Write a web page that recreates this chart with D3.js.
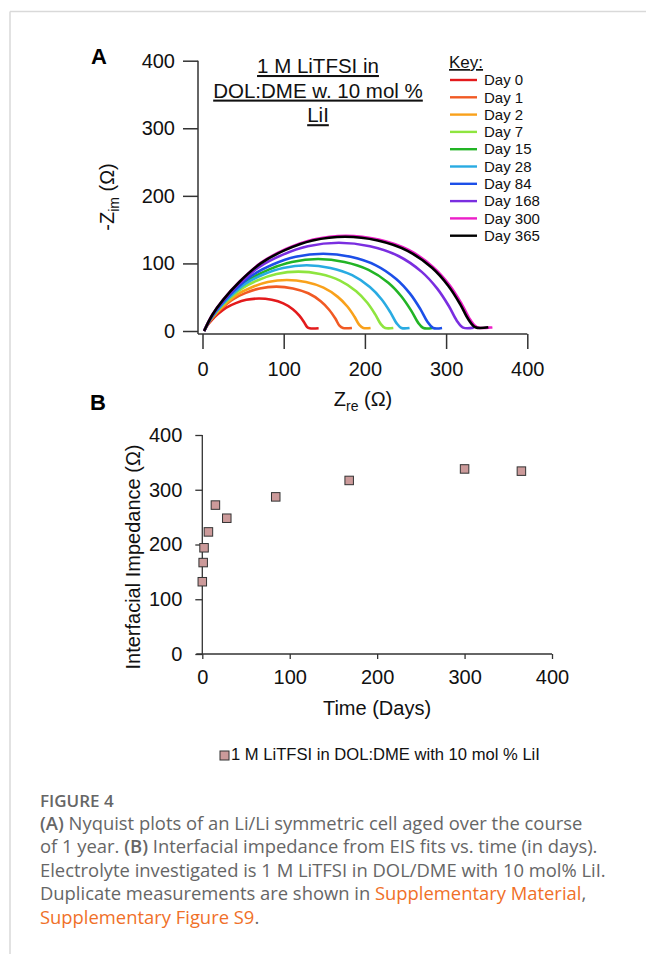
<!DOCTYPE html>
<html>
<head>
<meta charset="utf-8">
<script src="https://cdn.jsdelivr.net/npm/d3@7"></script>
<style>
  body { margin: 0; background: #fff; }
  svg { display: block; }
</style>
</head>
<body>
<svg id="fig"></svg>
<script>
// Panel A: Nyquist curves, one per ageing day
const days = [0, 1, 2, 7, 15, 28, 84, 168, 300, 365];
const zre = [
  [2, 5.9, 11.1, 18.9, 29.3, 41, 54, 69.6, 85.2, 99.5, 111.2, 119, 124.9, 128.8, 132, 143],
  [2, 7.1, 14, 24.2, 37.9, 53.3, 70.4, 90.9, 111.4, 130.3, 145.6, 155.9, 163.6, 168.7, 173, 184],
  [2, 7.9, 15.7, 27.5, 43.2, 60.8, 80.4, 103.9, 127.4, 149, 166.6, 178.4, 187.2, 193.1, 198, 207],
  [2, 8.7, 17.6, 31, 48.8, 68.9, 91.2, 118, 144.7, 169.3, 189.3, 202.7, 212.7, 219.4, 225, 235],
  [2, 10.1, 20.9, 37.1, 58.7, 83, 110, 142.4, 174.8, 204.5, 228.8, 245, 257.2, 265.3, 272, 283],
  [2, 9.3, 19, 33.6, 53, 74.9, 99.2, 128.4, 157.5, 184.3, 206.1, 220.7, 231.6, 238.9, 245, 255],
  [2, 10.5, 21.7, 38.7, 61.2, 86.6, 114.8, 148.6, 182.5, 213.5, 238.9, 255.8, 268.5, 277, 284, 295],
  [2, 11.6, 24.3, 43.5, 69, 97.7, 129.6, 167.9, 206.2, 241.3, 270, 289.1, 303.5, 313, 321, 334],
  [2, 12.1, 25.5, 45.7, 72.6, 102.8, 136.4, 176.7, 217, 254, 284.2, 304.4, 319.5, 329.6, 338, 357],
  [2, 12, 25.4, 45.4, 72.1, 102.2, 135.6, 175.7, 215.8, 252.5, 282.6, 302.6, 317.6, 327.7, 336, 352]
];
const zim = [
  [0, 8.2, 15.8, 25, 34.6, 41.3, 46.1, 48, 46.1, 40.8, 32.2, 23, 13.4, 6, 4, 4],
  [0, 11.2, 21.6, 34.1, 47.2, 56.4, 63, 65.6, 63, 55.8, 44, 31.5, 18.4, 7.9, 4.5, 4.5],
  [0, 12.8, 24.9, 39.2, 54.3, 64.8, 72.4, 75.4, 72.4, 64.1, 50.5, 36.2, 21.1, 9, 4.5, 4.5],
  [0, 14.9, 29, 45.7, 63.2, 75.5, 84.3, 87.8, 84.3, 74.6, 58.8, 42.1, 24.6, 10.5, 4.5, 4.5],
  [0, 18.1, 35.1, 55.4, 76.7, 91.6, 102.2, 106.5, 102.2, 90.5, 71.4, 51.1, 29.8, 12.8, 4.5, 4.5],
  [0, 16.5, 32.1, 50.5, 70, 83.6, 93.3, 97.2, 93.3, 82.6, 65.1, 46.7, 27.2, 11.7, 4.5, 4.5],
  [0, 19.4, 37.8, 59.5, 82.4, 98.4, 109.8, 114.4, 109.8, 97.2, 76.6, 54.9, 32, 13.7, 4.5, 4.5],
  [0, 22.2, 43.1, 67.9, 94, 112.3, 125.4, 130.6, 125.4, 111, 87.5, 62.7, 36.6, 15.7, 5, 5],
  [0, 24, 46.5, 73.3, 101.5, 121.3, 135.4, 141, 135.4, 119.9, 94.5, 67.7, 39.5, 16.9, 5.5, 5.5],
  [0, 23.7, 46, 72.5, 100.4, 120, 133.9, 139.5, 133.9, 118.6, 93.5, 67, 39.1, 16.7, 5.5, 5.5]
];
const dayColors = ["#e31a1c", "#f15a24", "#f9a11b", "#8ee53f", "#22b425",
                   "#29abe2", "#1c4fe8", "#7a2ee0", "#ec1fc8", "#000000"];

// Panel B: fitted interfacial impedance vs time
const impedance = [132, 167, 194, 223, 272, 248, 287, 317, 338, 334];
const ticks = [0, 100, 200, 300, 400];

const width = 646, height = 954;
const font = "'Liberation Sans', Arial, sans-serif";

const svg = d3.select("#fig")
  .attr("width", width)
  .attr("height", height)
  .style("font-family", font);

// page frame
svg.append("line").attr("x1", 10).attr("x2", 646).attr("y1", 11.5).attr("y2", 11.5)
  .attr("stroke", "#d9d9d9").attr("stroke-width", 1.5);
svg.append("line").attr("x1", 10).attr("x2", 10).attr("y1", 11.5).attr("y2", 954)
  .attr("stroke", "#d9d9d9").attr("stroke-width", 1.5);

// ---------- Panel A ----------
const xA = d3.scaleLinear().domain([0, 400]).range([202.5, 527.3]);
const yA = d3.scaleLinear().domain([0, 400]).range([331, 60.7]);

const gA = svg.append("g");

// y axis (offset a little left of x=0)
const yAxisA = gA.append("g")
  .attr("transform", "translate(198,0)")
  .call(d3.axisLeft(yA).tickValues(ticks).tickSize(15).tickPadding(8));
// x axis (offset a little below y=0)
const xAxisA = gA.append("g")
  .attr("transform", "translate(0,334)")
  .call(d3.axisBottom(xA).tickValues(ticks).tickSize(15).tickPadding(13));

[yAxisA, xAxisA].forEach(a => {
  a.select(".domain").remove();
  a.selectAll("line").attr("stroke", "#333").attr("stroke-width", 1.5);
  a.selectAll("text").attr("font-size", 20).attr("fill", "#111").attr("font-family", font);
});
gA.append("line").attr("x1", 198).attr("x2", 198).attr("y1", yA(400)).attr("y2", 334)
  .attr("stroke", "#333").attr("stroke-width", 1.5);
gA.append("line").attr("x1", 198).attr("x2", xA(400)).attr("y1", 334).attr("y2", 334)
  .attr("stroke", "#333").attr("stroke-width", 1.5);

const line = d3.line()
  .x(d => xA(d[0]))
  .y(d => yA(d[1]))
  .curve(d3.curveCatmullRom.alpha(0.5));

gA.selectAll("path.curve")
  .data(days)
  .enter().append("path")
  .attr("class", "curve")
  .attr("d", (d, i) => line(zre[i].map((x, j) => [x, zim[i][j]])))
  .attr("fill", "none")
  .attr("stroke", (d, i) => dayColors[i])
  .attr("stroke-width", 2.6);

// axis titles
const yTitleA = gA.append("text")
  .attr("transform", "translate(114,197) rotate(-90)")
  .attr("text-anchor", "middle")
  .attr("font-size", 20)
  .attr("fill", "#111");
yTitleA.append("tspan").text("-Z");
yTitleA.append("tspan").text("im").attr("font-size", 14).attr("dy", 5);
yTitleA.append("tspan").text(" (Ω)").attr("dy", -5);

const xTitleA = gA.append("text")
  .attr("x", 363).attr("y", 406)
  .attr("text-anchor", "middle")
  .attr("font-size", 20)
  .attr("fill", "#111");
xTitleA.append("tspan").text("Z");
xTitleA.append("tspan").text("re").attr("font-size", 14).attr("dy", 5);
xTitleA.append("tspan").text(" (Ω)").attr("dy", -5);

// title, underlined
["1 M LiTFSI in", "DOL:DME w. 10 mol %", "LiI"].forEach((t, i) => {
  gA.append("text")
    .attr("x", 318).attr("y", 73 + i * 24.6)
    .attr("text-anchor", "middle")
    .attr("font-size", 20.5)
    .attr("fill", "#111")
    .attr("text-decoration", "underline")
    .text(t);
});

// key
gA.append("text")
  .attr("x", 449).attr("y", 68)
  .attr("font-size", 17)
  .attr("fill", "#111")
  .attr("text-decoration", "underline")
  .text("Key:");

const key = gA.selectAll("g.key")
  .data(days)
  .enter().append("g")
  .attr("class", "key")
  .attr("transform", (d, i) => `translate(0,${80 + i * 17.3})`);
key.append("line")
  .attr("x1", 450).attr("x2", 477)
  .attr("stroke", (d, i) => dayColors[i])
  .attr("stroke-width", 2.4);
key.append("text")
  .attr("x", 484).attr("dy", "0.35em")
  .attr("font-size", 15)
  .attr("fill", "#111")
  .text(d => `Day ${d}`);

gA.append("text").attr("x", 91).attr("y", 64)
  .attr("font-size", 22).attr("font-weight", "bold").attr("fill", "#000").text("A");

// ---------- Panel B ----------
const xB = d3.scaleLinear().domain([0, 400]).range([202.3, 552]);
const yB = d3.scaleLinear().domain([0, 400]).range([654, 435]);

const gB = svg.append("g");

const yAxisB = gB.append("g")
  .attr("transform", `translate(${xB(0)},0)`)
  .call(d3.axisLeft(yB).tickValues(ticks).tickSize(7).tickPadding(13));
const xAxisB = gB.append("g")
  .attr("transform", `translate(0,${yB(0)})`)
  .call(d3.axisBottom(xB).tickValues(ticks).tickSize(5).tickPadding(11));

[yAxisB, xAxisB].forEach(a => {
  a.select(".domain").remove();
  a.selectAll("line").attr("stroke", "#333").attr("stroke-width", 1.3);
  a.selectAll("text").attr("font-size", 20).attr("fill", "#111").attr("font-family", font);
});
gB.append("line").attr("x1", xB(0)).attr("x2", xB(0)).attr("y1", yB(400)).attr("y2", yB(0))
  .attr("stroke", "#333").attr("stroke-width", 1.3);
gB.append("line").attr("x1", xB(0) - 6).attr("x2", xB(400)).attr("y1", yB(0)).attr("y2", yB(0))
  .attr("stroke", "#333").attr("stroke-width", 1.3);

const sq = 8.5;
gB.selectAll("rect.pt")
  .data(days)
  .enter().append("rect")
  .attr("class", "pt")
  .attr("x", (d) => xB(d) - sq / 2)
  .attr("y", (d, i) => yB(impedance[i]) - sq / 2)
  .attr("width", sq).attr("height", sq)
  .attr("fill", "#cc9a9a")
  .attr("stroke", "#333")
  .attr("stroke-width", 1);

gB.append("text")
  .attr("transform", "translate(140,557) rotate(-90)")
  .attr("text-anchor", "middle")
  .attr("font-size", 20)
  .attr("fill", "#111")
  .text("Interfacial Impedance (Ω)");

gB.append("text")
  .attr("x", 377).attr("y", 715)
  .attr("text-anchor", "middle")
  .attr("font-size", 20)
  .attr("fill", "#111")
  .text("Time (Days)");

gB.append("text").attr("x", 90).attr("y", 410)
  .attr("font-size", 22).attr("font-weight", "bold").attr("fill", "#000").text("B");

// legend
gB.append("rect")
  .attr("x", 220).attr("y", 751).attr("width", 9).attr("height", 9)
  .attr("fill", "#cc9a9a").attr("stroke", "#333").attr("stroke-width", 1);
gB.append("text")
  .attr("x", 231).attr("y", 760)
  .attr("font-size", 16.6)
  .attr("fill", "#111")
  .text("1 M LiTFSI in DOL:DME with 10 mol % LiI");

// ---------- Caption ----------
const capFont = "'Open Sans', 'Noto Sans', sans-serif";
const cap = svg.append("g").style("font-family", capFont).attr("fill", "#666");
cap.append("text").attr("x", 40).attr("y", 807).attr("font-size", 17)
  .attr("font-weight", 600).text("FIGURE 4");

const capLines = [
  [["(A)", "b"], [" Nyquist plots of an Li/Li symmetric cell aged over the course", ""]],
  [["of 1 year. ", ""], ["(B)", "b"], [" Interfacial impedance from EIS fits vs. time (in days).", ""]],
  [["Electrolyte investigated is 1 M LiTFSI in DOL/DME with 10 mol% LiI.", ""]],
  [["Duplicate measurements are shown in ", ""], ["Supplementary Material", "o"], [",", ""]],
  [["Supplementary Figure S9", "o"], [".", ""]]
];
capLines.forEach((parts, i) => {
  const t = cap.append("text").attr("x", 40).attr("y", 830 + i * 23.4).attr("font-size", 18.4);
  parts.forEach(([s, k]) => {
    const ts = t.append("tspan").text(s);
    if (k === "b") ts.attr("font-weight", 600);
    if (k === "o") ts.attr("fill", "#f07028");
  });
});
</script>
</body>
</html>
